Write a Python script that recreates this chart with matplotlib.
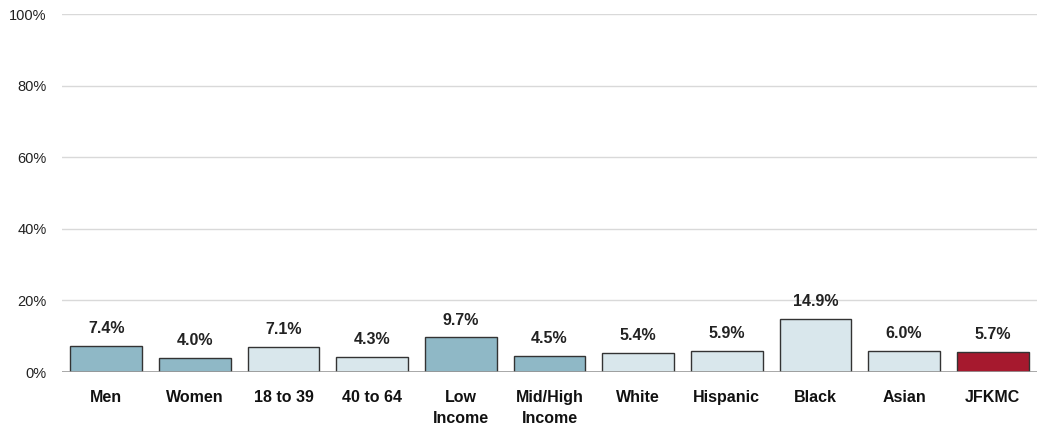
import matplotlib
matplotlib.use("Agg")
import matplotlib.pyplot as plt

categories = ["Men", "Women", "18 to 39", "40 to 64", "Low\nIncome", "Mid/High\nIncome",
              "White", "Hispanic", "Black", "Asian", "JFKMC"]
values = [7.4, 4.0, 7.1, 4.3, 9.7, 4.5, 5.4, 5.9, 14.9, 6.0, 5.7]
groups = ["dark", "dark", "light", "light", "dark", "dark", "light", "light", "light", "light", "main"]
yticks = [0, 20, 40, 60, 80, 100]

palette = {"dark": "#8fb8c6", "light": "#d9e7ec", "main": "#a6192e"}

plt.rcParams['font.family'] = ['Liberation Sans', 'DejaVu Sans']

fig = plt.figure(figsize=(10.37, 4.30), dpi=100)
ax = fig.add_axes([62/1037, 58/430, 975/1037, 358/430])

x = list(range(len(categories)))
ax.bar(x, values, width=0.81, color=[palette[g] for g in groups],
       edgecolor="#333333", linewidth=1.0, zorder=3)

for xi, v in zip(x, values):
    ax.annotate(f"{v:.1f}%", (xi, v), xytext=(0, 7), textcoords="offset points",
                ha="center", va="bottom", fontsize=11.5, fontweight="bold", color="#222222")

ax.set_xlim(-0.5, len(categories) - 0.5)
ax.set_ylim(0, 100)
ax.set_yticks(yticks)
ax.set_yticklabels([f"{t}%" for t in yticks], fontsize=10.5, color="#222222")
ax.set_xticks(x)
ax.set_xticklabels(categories, fontsize=11.5, fontweight="bold", color="#111111", va="top",
                   linespacing=1.5)
ax.tick_params(axis="both", length=0)
ax.tick_params(axis="x", pad=13)
ax.tick_params(axis="y", pad=11)
for s in ax.spines.values():
    s.set_visible(False)
for t in yticks[1:]:
    ax.axhline(t, color="#d9d9d9", linewidth=1.0, zorder=1)
ax.axhline(0, color="#999999", linewidth=1.2, zorder=4)

fig.savefig("out.png", dpi=100)
